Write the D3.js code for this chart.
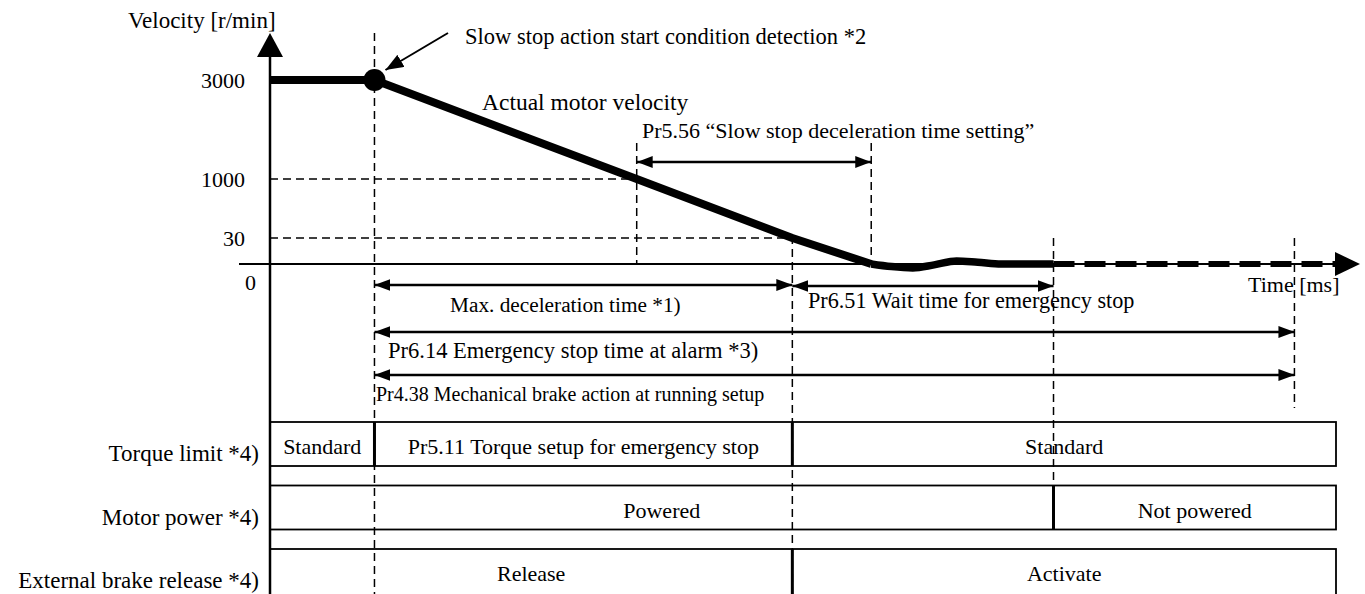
<!DOCTYPE html>
<html lang="en">

<head>
  <meta charset="utf-8">
  <title>Slow stop sequence</title>
  <script src="https://d3js.org/d3.v7.min.js"></script>

  <style>

    body {
      margin: 0;
      background: #fff;
    }

    svg {
      display: block;
      font-family: 'Liberation Serif', 'Times New Roman', serif;
    }

    text {
      fill: #000;
    }

    .guide {
      stroke: #000;
      stroke-width: 1.5px;
      stroke-dasharray: 8, 5;
      fill: none;
    }

    .span {
      stroke: #000;
      stroke-width: 2.5px;
    }

    .box {
      fill: none;
      stroke: #000;
      stroke-width: 1.8px;
    }

    .split {
      stroke: #000;
      stroke-width: 3px;
    }

  </style>

</head>

<body>

  <div class="chart"></div>

  <script type="text/javascript">

    // velocity profile (time in ms-ish units, velocity in r/min)
    var velocityTicks = [30, 1000, 3000];
    var rampTime = [0, 98, 344, 490, 564];
    var rampVelocity = [3000, 3000, 1000, 30, 0];
    var settleTime = [564, 583, 603, 623, 644, 664, 686, 735];
    var settleVelocity = [0, -3, -4.5, -1, 3.5, 2, 0, 0];
    var coastTime = [735, 1000];
    var coastVelocity = [0, 0];
    var levelVelocity = [1000, 30];
    var levelTime = [344, 490];
    var detectTime = 98;

    // dimension arrows
    var spanLabels = [
      'Pr5.56 \u201cSlow stop deceleration time setting\u201d',
      'Max. deceleration time *1)',
      'Pr6.51 Wait time for emergency stop',
      'Pr6.14 Emergency stop time at alarm *3)',
      'Pr4.38 Mechanical brake action at running setup'
    ];
    var spanStart = [344, 98, 490, 98, 98];
    var spanEnd = [564, 490, 735, 961, 961];

    // timing rows
    var rowLabels = ['Torque limit *4)', 'Motor power *4)', 'External brake release *4)'];
    var torqueStates = ['Standard', 'Pr5.11 Torque setup for emergency stop', 'Standard'];
    var torqueEdges = [0, 98, 490, 1000];
    var powerStates = ['Powered', 'Not powered'];
    var powerEdges = [0, 735, 1000];
    var brakeStates = ['Release', 'Activate'];
    var brakeEdges = [0, 490, 1000];

    var w = 1365;
    var h = 594;
    var rowTop = 422;
    var rowStep = 63.5;
    var rowHeight = 44;

    var xScale = d3.scaleLinear().domain([0, 1000]).range([270, 1336]);
    var yScale = d3.scaleLinear().domain([0, 30, 1000, 3000]).range([264, 238, 179, 80]);

    var svg = d3.select('.chart')
                .append('svg')
                .attr('width', w)
                .attr('height', h);

    var defs = svg.append('defs');

    defs.append('marker')
        .attr('id', 'head')
        .attr('viewBox', '0 0 16 12')
        .attr('refX', 16)
        .attr('refY', 6)
        .attr('markerWidth', 16)
        .attr('markerHeight', 12)
        .attr('markerUnits', 'userSpaceOnUse')
        .attr('orient', 'auto-start-reverse')
        .append('path')
        .attr('d', 'M0,0L16,6L0,12Z')
        .attr('fill', '#000');

    defs.append('marker')
        .attr('id', 'pointer')
        .attr('viewBox', '0 0 18 14')
        .attr('refX', 18)
        .attr('refY', 7)
        .attr('markerWidth', 18)
        .attr('markerHeight', 14)
        .attr('markerUnits', 'userSpaceOnUse')
        .attr('orient', 'auto')
        .append('path')
        .attr('d', 'M0,0L18,7L0,14Z')
        .attr('fill', '#000');

    var rowY = function(i) { return rowTop + i * rowStep; };

    var drawRows = function() {

      var rows = [
        { states: torqueStates, edges: torqueEdges },
        { states: powerStates, edges: powerEdges },
        { states: brakeStates, edges: brakeEdges }
      ];

      rows.forEach(function(row, i) {

        var y0 = rowY(i);
        // last box runs off the bottom of the page
        var bh = i === rows.length - 1 ? rowHeight + 12 : rowHeight;
        var g = svg.append('g').attr('class', 'row');

        g.append('rect')
         .attr('class', 'box')
         .attr('x', xScale(0))
         .attr('y', y0)
         .attr('width', xScale(1000) - xScale(0))
         .attr('height', bh);

        g.selectAll('.split')
         .data(row.edges.slice(1, -1))
         .enter()
         .append('line')
         .attr('class', 'split')
         .attr('x1', function(d) { return xScale(d); })
         .attr('x2', function(d) { return xScale(d); })
         .attr('y1', y0)
         .attr('y2', y0 + bh);

        g.selectAll('.state')
         .data(row.states)
         .enter()
         .append('text')
         .attr('class', 'state')
         .attr('x', function(d, k) { return (xScale(row.edges[k]) + xScale(row.edges[k + 1])) / 2; })
         .attr('y', y0 + rowHeight / 2 + 10)
         .attr('text-anchor', 'middle')
         .attr('font-size', 22)
         .text(function(d) { return d; });

        svg.append('text')
           .attr('x', 259)
           .attr('y', y0 + rowHeight / 2 + 17)
           .attr('text-anchor', 'end')
           .attr('font-size', 23)
           .text(rowLabels[i]);

      });

    }

    var drawGuides = function() {

      // horizontal level guides
      svg.selectAll('.level')
         .data(levelVelocity)
         .enter()
         .append('line')
         .attr('class', 'guide')
         .attr('x1', xScale(0))
         .attr('x2', function(d, i) { return xScale(levelTime[i]); })
         .attr('y1', function(d) { return yScale(d); })
         .attr('y2', function(d) { return yScale(d); });

      var verticals = [
        { t: detectTime, top: 33, bottom: h },
        { t: spanStart[0], top: 143, bottom: yScale(0) },
        { t: spanEnd[0], top: 143, bottom: yScale(0) },
        { t: spanEnd[1], top: 236, bottom: h },
        { t: spanEnd[2], top: 238, bottom: rowY(1) },
        { t: spanEnd[3], top: 238, bottom: 408 }
      ];

      svg.selectAll('.vguide')
         .data(verticals)
         .enter()
         .append('line')
         .attr('class', 'guide')
         .attr('x1', function(d) { return xScale(d.t); })
         .attr('x2', function(d) { return xScale(d.t); })
         .attr('y1', function(d) { return d.top; })
         .attr('y2', function(d) { return d.bottom; });

    }

    var drawAxes = function() {

      var x0 = xScale(0);
      var y0 = yScale(0);

      svg.append('line')
         .attr('x1', x0).attr('x2', x0)
         .attr('y1', 56).attr('y2', h)
         .attr('stroke', '#000')
         .attr('stroke-width', 2.5);

      svg.append('path')
         .attr('d', 'M' + x0 + ',33L' + (x0 - 13) + ',57L' + (x0 + 13) + ',57Z')
         .attr('fill', '#000');

      svg.append('line')
         .attr('x1', 239).attr('x2', 1336)
         .attr('y1', y0).attr('y2', y0)
         .attr('stroke', '#000')
         .attr('stroke-width', 2);

      svg.append('path')
         .attr('d', 'M1360,' + y0 + 'L1335,' + (y0 - 12) + 'L1335,' + (y0 + 12) + 'Z')
         .attr('fill', '#000');

      var yAxis = d3.axisLeft(yScale)
                    .tickValues(velocityTicks)
                    .tickSize(0)
                    .tickPadding(25)
                    .tickFormat(d3.format('d'));

      var ya = svg.append('g')
                  .attr('class', 'yAxis')
                  .attr('transform', 'translate(' + x0 + ',0)')
                  .call(yAxis);

      ya.select('.domain').remove();
      ya.attr('font-family', null).attr('font-size', 22);

      svg.append('text')
         .attr('x', 256)
         .attr('y', 290)
         .attr('text-anchor', 'end')
         .attr('font-size', 22)
         .text('0');

      svg.append('text')
         .attr('x', 128)
         .attr('y', 28)
         .attr('font-size', 23)
         .text('Velocity [r/min]');

      svg.append('text')
         .attr('x', 1248)
         .attr('y', 292)
         .attr('font-size', 22)
         .text('Time [ms]');

    }

    var drawSpans = function() {

      var spanLayout = [
        { y: 162, lx: 642, ly: 138, size: 22 },
        { y: 285, lx: 450, ly: 312, size: 21.3 },
        { y: 286, lx: 808, ly: 308, size: 22.2 },
        { y: 332, lx: 388, ly: 358, size: 22.5 },
        { y: 375, lx: 376, ly: 401, size: 20 }
      ];

      svg.selectAll('.span')
         .data(spanLabels)
         .enter()
         .append('line')
         .attr('class', 'span')
         .attr('x1', function(d, i) { return xScale(spanStart[i]); })
         .attr('x2', function(d, i) { return xScale(spanEnd[i]); })
         .attr('y1', function(d, i) { return spanLayout[i].y; })
         .attr('y2', function(d, i) { return spanLayout[i].y; })
         .attr('marker-start', 'url(#head)')
         .attr('marker-end', 'url(#head)');

      svg.selectAll('.spanLabel')
         .data(spanLabels)
         .enter()
         .append('text')
         .attr('class', 'spanLabel')
         .attr('x', function(d, i) { return spanLayout[i].lx; })
         .attr('y', function(d, i) { return spanLayout[i].ly; })
         .attr('font-size', function(d, i) { return spanLayout[i].size; })
         .text(function(d) { return d; });

    }

    var drawVelocity = function() {

      var line = d3.line()
                   .x(function(d) { return xScale(d[0]); })
                   .y(function(d) { return yScale(d[1]); });

      svg.append('path')
         .datum(d3.zip(coastTime, coastVelocity))
         .attr('d', line)
         .attr('fill', 'none')
         .attr('stroke', '#000')
         .attr('stroke-width', 6)
         .attr('stroke-dasharray', '21,10');

      svg.append('path')
         .datum(d3.zip(settleTime, settleVelocity))
         .attr('d', line.curve(d3.curveMonotoneX))
         .attr('fill', 'none')
         .attr('stroke', '#000')
         .attr('stroke-width', 7.5);

      svg.append('path')
         .datum(d3.zip(rampTime, rampVelocity))
         .attr('d', line.curve(d3.curveLinear))
         .attr('fill', 'none')
         .attr('stroke', '#000')
         .attr('stroke-width', 8)
         .attr('stroke-linejoin', 'round');

      var cx = xScale(detectTime);
      var cy = yScale(3000);

      svg.append('circle')
         .attr('cx', cx)
         .attr('cy', cy)
         .attr('r', 11)
         .attr('fill', '#000');

      svg.append('line')
         .attr('x1', 448).attr('y1', 33)
         .attr('x2', cx + 11).attr('y2', cy - 10)
         .attr('stroke', '#000')
         .attr('stroke-width', 2)
         .attr('marker-end', 'url(#pointer)');

      svg.append('text')
         .attr('x', 465)
         .attr('y', 44)
         .attr('font-size', 22.5)
         .text('Slow stop action start condition detection *2');

      svg.append('text')
         .attr('x', 482)
         .attr('y', 110)
         .attr('font-size', 23.5)
         .text('Actual motor velocity');

    }

    drawRows();
    drawAxes();
    drawSpans();
    drawGuides();
    drawVelocity();

  </script>
</body>

</html>
